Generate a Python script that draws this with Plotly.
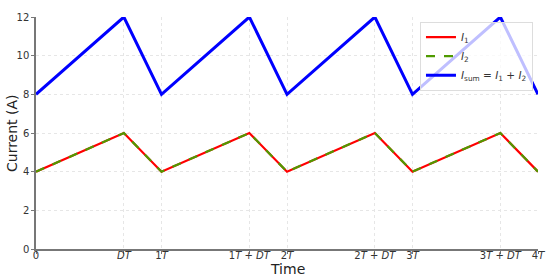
import plotly.graph_objects as go

# one period T = 1, duty cycle D = 0.7
time = [0, 0.7, 1, 1.7, 2, 2.7, 3, 3.7, 4]
i1 = [4, 6, 4, 6, 4, 6, 4, 6, 4]
i2 = [4, 6, 4, 6, 4, 6, 4, 6, 4]
isum = [8, 12, 8, 12, 8, 12, 8, 12, 8]

tick_vals = [0, 0.7, 1, 1.7, 2, 2.7, 3, 3.7, 4]
tick_text = ["0", "<i>DT</i>", "1<i>T</i>", "1<i>T</i> + <i>DT</i>", "2<i>T</i>",
             "2<i>T</i> + <i>DT</i>", "3<i>T</i>", "3<i>T</i> + <i>DT</i>", "4<i>T</i>"]

fig = go.Figure()
fig.add_trace(go.Scatter(x=time, y=i1, mode="lines", name="<i>I</i><sub>1</sub>",
                         line=dict(color="red", width=2.2)))
fig.add_trace(go.Scatter(x=time, y=i2, mode="lines", name="<i>I</i><sub>2</sub>",
                         line=dict(color="#4f9a00", width=2.2, dash="dash")))
fig.add_trace(go.Scatter(x=time, y=isum, mode="lines",
                         name="<i>I</i><sub>sum</sub> = <i>I</i><sub>1</sub> + <i>I</i><sub>2</sub>",
                         line=dict(color="blue", width=3)))

# axis titles as annotations so they sit exactly where the reference has them
fig.add_annotation(text="Time", xref="paper", yref="paper", x=0.5, y=0,
                   yshift=-20, showarrow=False, yanchor="middle",
                   font=dict(size=14, color="#222"))
fig.add_annotation(text="Current (A)", xref="paper", yref="paper", x=0, y=0.5,
                   xshift=-24, showarrow=False, textangle=-90, xanchor="center",
                   font=dict(size=14, color="#222"))

fig.update_layout(
    width=550, height=278,
    margin=dict(l=36, r=12, t=17, b=29),
    plot_bgcolor="white",
    paper_bgcolor="white",
    font=dict(family="DejaVu Sans", size=10, color="#333"),
    legend=dict(x=0.99, y=0.98, xanchor="right", yanchor="top",
                bgcolor="rgba(255,255,255,0.75)", bordercolor="#ddd", borderwidth=1,
                font=dict(size=10.5), tracegroupgap=0, itemwidth=30),
    xaxis=dict(
        range=[0, 4], tickvals=tick_vals, ticktext=tick_text,
        showgrid=True, gridcolor="#e6e6e6", griddash="dot", gridwidth=1,
        showline=True, linecolor="#777", linewidth=1.5,
        ticks="outside", ticklen=3, tickcolor="#777",
        zeroline=False, automargin=False, ticklabelstandoff=-7,
    ),
    yaxis=dict(
        range=[0, 12], tickvals=[0, 2, 4, 6, 8, 10, 12],
        showgrid=True, gridcolor="#e6e6e6", griddash="dot", gridwidth=1,
        showline=True, linecolor="#777", linewidth=1.5,
        ticks="outside", ticklen=3, tickcolor="#777",
        zeroline=False, automargin=False,
    ),
)

# drop the page's default body margin so the figure sits at the window corner
fig.write_html("out.html", config={"displayModeBar": False},
               post_script="document.body.style.margin='0';")
